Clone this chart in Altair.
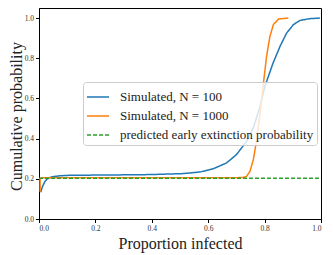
import altair as alt
import pandas as pd

series_names = ["Simulated, N = 100", "Simulated, N = 1000", "predicted early extinction probability"]

blue_x = [0.006, 0.012, 0.021, 0.03, 0.039, 0.055, 0.075, 0.098, 0.15, 0.25, 0.394, 0.512, 0.571, 0.618,
          0.665, 0.70, 0.736, 0.76, 0.784, 0.801, 0.83, 0.855, 0.878, 0.902, 0.925, 0.96, 0.996]
blue_y = [0.133, 0.16, 0.187, 0.2, 0.207, 0.212, 0.215, 0.217, 0.218, 0.219, 0.221, 0.226, 0.234, 0.25,
          0.279, 0.32, 0.386, 0.453, 0.56, 0.66, 0.776, 0.86, 0.925, 0.967, 0.988, 0.997, 1.0]

orange_x = [0.004, 0.004, 0.008, 0.3, 0.6, 0.72, 0.736, 0.748, 0.76, 0.772, 0.784, 0.796, 0.807, 0.819,
            0.831, 0.849, 0.884]
orange_y = [0.135, 0.2, 0.205, 0.205, 0.205, 0.206, 0.212, 0.237, 0.295, 0.395, 0.527, 0.677, 0.81, 0.909,
            0.967, 0.995, 1.0]

green_x = [0.0, 1.0]
green_y = [0.203, 0.203]

colors = ["#1f77b4", "#ff7f0e", "#2ca02c"]
dashes = [[1, 0], [1, 0], [4, 2]]

rows = []
for name, xs, ys in zip(series_names, [blue_x, orange_x, green_x], [blue_y, orange_y, green_y]):
    for i, (a, b) in enumerate(zip(xs, ys)):
        rows.append({"series": name, "x": a, "y": b, "i": i})
df = pd.DataFrame(rows)

FONT = "Liberation Serif"

legend = alt.Legend(
    title=None, orient="none", legendX=44, legendY=74,
    labelFont=FONT, labelFontSize=13, labelColor="#222", symbolType="stroke", symbolSize=484,
    symbolStrokeWidth=1.5, fillColor="rgba(255,255,255,0.8)", strokeColor="#cccccc", cornerRadius=3,
    padding=3, rowPadding=-4.5, labelLimit=300, labelOffset=10,
)

chart = alt.Chart(df).mark_line(strokeWidth=1.5, clip=True).encode(
    x=alt.X("x:Q", scale=alt.Scale(domain=[0, 1], nice=False),
            axis=alt.Axis(title="Proportion infected", values=[0, 0.2, 0.4, 0.6, 0.8, 1.0], format=".1f")),
    y=alt.Y("y:Q", scale=alt.Scale(domain=[0, 1.05], nice=False),
            axis=alt.Axis(title="Cumulative probability", values=[0, 0.2, 0.4, 0.6, 0.8, 1.0], format=".1f",
                          titleX=-31, titleY=108, titleBaseline="top", titleAlign="center")),
    color=alt.Color("series:N", scale=alt.Scale(domain=series_names, range=colors), legend=legend),
    strokeDash=alt.StrokeDash("series:N", scale=alt.Scale(domain=series_names, range=dashes), legend=legend),
    order="i:Q",
).properties(
    width=282, height=211,
    autosize=alt.AutoSizeParams(type="none"),
    padding={"left": 31, "top": 0, "right": 4, "bottom": 36},
).configure(
    font=FONT
).configure_view(
    stroke="black", strokeWidth=1
).configure_axis(
    grid=False, domainColor="black", tickColor="black", tickSize=3.5, labelFont=FONT, titleFont=FONT,
    labelFontSize=7.5, titleFontSize=16, titleFontWeight="normal", labelColor="#333", titleColor="#222",
    labelPadding=2,
).configure_axisX(
    titlePadding=3
).configure_legend(
    labelFont=FONT
)

chart.save("out.html", embed_options={"renderer": "svg", "actions": False})
